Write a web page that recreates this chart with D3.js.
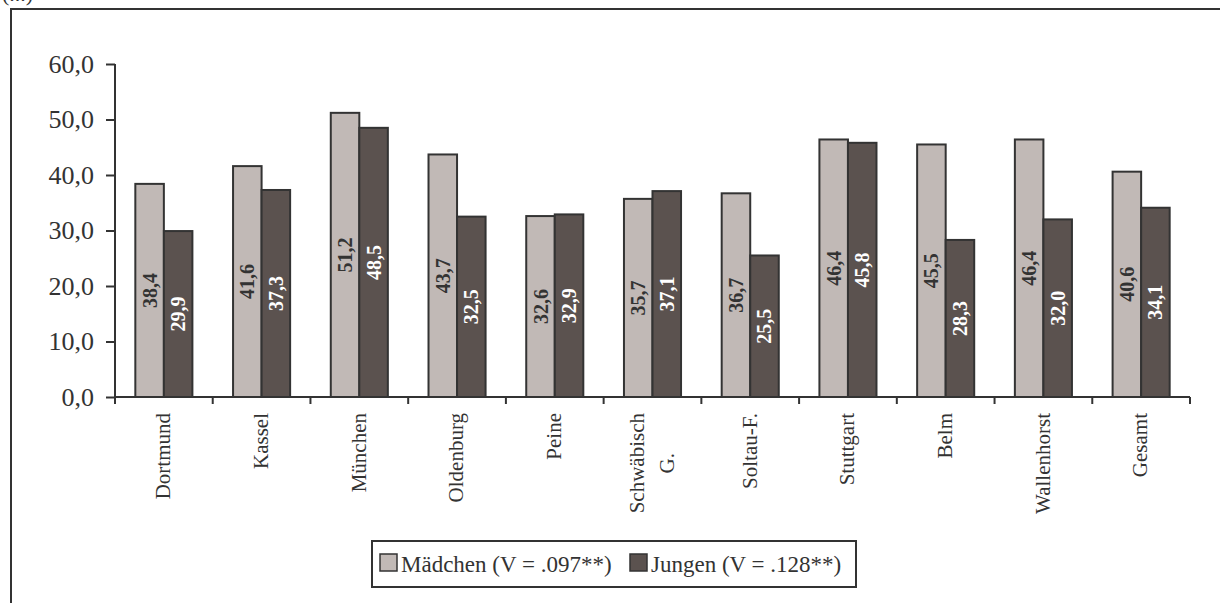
<!DOCTYPE html>
<html>
<head>
<meta charset="utf-8">
<script src="https://cdn.jsdelivr.net/npm/d3@7"></script>
<style>
  body { margin: 0; background: #fff; }
  svg { display: block; font-family: "Liberation Serif", "Times New Roman", serif; }
  .axis path, .axis line { stroke: #333; stroke-width: 2; }
  .axis text { fill: #333; }
</style>
</head>
<body>
<div id="vis"></div>
<script>
// Data
var cities = ['Dortmund', 'Kassel', 'München', 'Oldenburg', 'Peine', 'Schwäbisch G.', 'Soltau-F.', 'Stuttgart', 'Belm', 'Wallenhorst', 'Gesamt'];
var maedchen = [38.4, 41.6, 51.2, 43.7, 32.6, 35.7, 36.7, 46.4, 45.5, 46.4, 40.6];
var jungen = [29.9, 37.3, 48.5, 32.5, 32.9, 37.1, 25.5, 45.8, 28.3, 32.0, 34.1];
var seriesNames = ['Mädchen (V = .097**)', 'Jungen (V = .128**)'];
var yTicks = [0, 10, 20, 30, 40, 50, 60];

var width = 1220;
var height = 603;
var margin = { top: 64, right: 30, bottom: 206, left: 115 };
var drawWidth = 1190 - margin.left;
var drawHeight = 397 - margin.top;

var colors = ['#c1b9b6', '#5b524f'];
var labelColors = ['#333', '#fff'];

var svg = d3.select('#vis').append('svg').attr('width', width).attr('height', height);

// outer frame (only top and left edges visible)
svg.append('path')
    .attr('d', 'M11,' + height + ' L11,9 L' + width + ',9')
    .attr('fill', 'none').attr('stroke', '#333').attr('stroke-width', 2);

// caption cut at the top edge, as in the source
svg.append('text').attr('x', 2).attr('y', 1).attr('font-size', 22).attr('fill', '#333').text('(...)');

var g = svg.append('g').attr('transform', 'translate(' + margin.left + ',' + margin.top + ')');

/************ scales ************/
var x0 = d3.scaleBand().domain(cities).range([0, drawWidth]).paddingInner(0.416).paddingOuter(0.208);
var x1 = d3.scaleBand().domain([0, 1]).range([0, x0.bandwidth()]);
var yScale = d3.scaleLinear().domain([0, 60]).range([drawHeight, 0]);

/************ axes ************/
var yAxis = d3.axisLeft(yScale).tickValues(yTicks).tickSize(9).tickPadding(12)
    .tickFormat(function(d) { return d3.format('.1f')(d).replace('.', ','); });
var yG = g.append('g').attr('class', 'axis').call(yAxis)
    .attr('font-family', null).attr('font-size', null);
yG.select('.domain').attr('d', 'M0,0 H0 V' + drawHeight);
yG.selectAll('text').attr('font-size', 26);

// x axis: ticks between categories
var step = x0.step();
var xG = g.append('g').attr('class', 'axis').attr('transform', 'translate(0,' + drawHeight + ')');
xG.append('path').attr('d', 'M0,0 H' + drawWidth).attr('fill', 'none');
xG.selectAll('line').data(d3.range(cities.length + 1)).enter().append('line')
    .attr('x1', function(i) { return i * step; })
    .attr('x2', function(i) { return i * step; })
    .attr('y1', 0).attr('y2', 7);

// category labels (rotated)
var catLabels = xG.selectAll('g.cat').data(cities).enter().append('g').attr('class', 'cat')
    .attr('transform', function(d) {
        return 'translate(' + (x0(d) + x0.bandwidth() / 2) + ',16) rotate(-90)';
    });
catLabels.each(function(d) {
    var sel = d3.select(this);
    var parts = d === 'Schwäbisch G.' ? ['Schwäbisch', 'G.'] : [d];
    if (parts.length === 1) {
        sel.append('text').attr('text-anchor', 'end').attr('dy', '0.3em')
            .attr('font-size', 21).attr('fill', '#333').text(d);
    } else {
        var first = sel.append('text').attr('text-anchor', 'end').attr('dy', '0.3em')
            .attr('y', -15).attr('font-size', 21).attr('fill', '#333').text(parts[0]);
        var len = first.node().getComputedTextLength();
        sel.append('text').attr('text-anchor', 'middle').attr('dy', '0.3em')
            .attr('x', -len / 2).attr('y', 15).attr('font-size', 21).attr('fill', '#333').text(parts[1]);
    }
});

/************ bars ************/
var data = cities.map(function(c, i) {
    return { city: c, values: [maedchen[i], jungen[i]] };
});

var groups = g.selectAll('g.group').data(data).enter().append('g').attr('class', 'group')
    .attr('transform', function(d) { return 'translate(' + x0(d.city) + ',0)'; });

var bars = groups.selectAll('g.bar').data(function(d) {
    return d.values.map(function(v, s) { return { s: s, v: v }; });
}).enter().append('g').attr('class', 'bar');

bars.append('rect')
    .attr('x', function(d) { return x1(d.s); })
    .attr('y', function(d) { return yScale(d.v); })
    .attr('width', x1.bandwidth())
    .attr('height', function(d) { return drawHeight - yScale(d.v); })
    .attr('fill', function(d) { return colors[d.s]; })
    .attr('stroke', '#333').attr('stroke-width', 2);

bars.append('text')
    .attr('transform', function(d) {
        return 'translate(' + (x1(d.s) + x1.bandwidth() / 2) + ',' + ((yScale(d.v) + drawHeight) / 2) + ') rotate(-90)';
    })
    .attr('text-anchor', 'middle').attr('dy', '0.35em')
    .attr('font-size', 20).attr('font-weight', 'bold')
    .attr('fill', function(d) { return labelColors[d.s]; })
    .text(function(d) { return d3.format('.1f')(d.v).replace('.', ','); });

// redraw axis line on top of bars
g.append('path').attr('d', 'M0,' + drawHeight + ' H' + drawWidth)
    .attr('stroke', '#333').attr('stroke-width', 2);

/************ legend ************/
var legend = svg.append('g').attr('transform', 'translate(372,541)');
legend.append('rect').attr('width', 484).attr('height', 46)
    .attr('fill', '#fff').attr('stroke', '#333').attr('stroke-width', 2);
var legendX = [8, 258];
seriesNames.forEach(function(name, i) {
    legend.append('rect').attr('x', legendX[i]).attr('y', 13).attr('width', 17).attr('height', 17)
        .attr('fill', colors[i]).attr('stroke', '#333').attr('stroke-width', 1.5);
    legend.append('text').attr('x', legendX[i] + 21).attr('y', 31)
        .attr('font-size', 23).attr('fill', '#333').text(name);
});
</script>
</body>
</html>
